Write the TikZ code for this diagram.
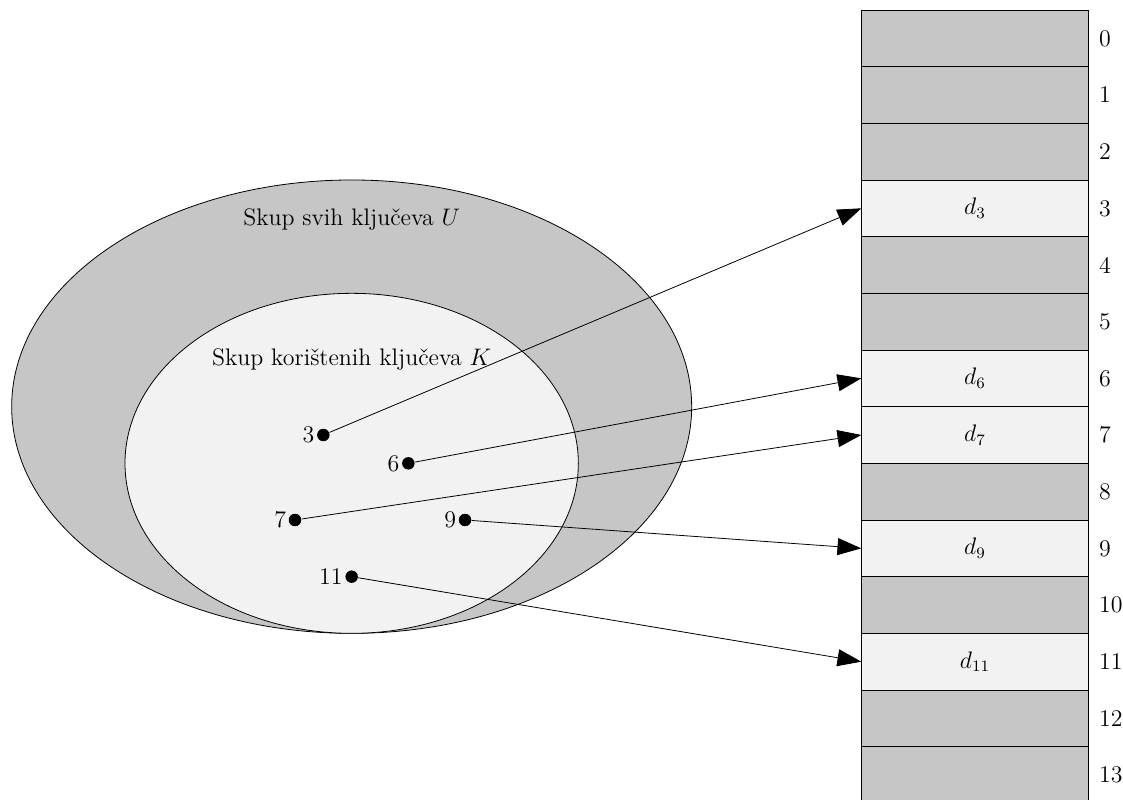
\documentclass[12pt,tikz,border=0pt]{standalone}
\usepackage{tikz}
\usetikzlibrary{arrows.meta,positioning,shapes.geometric}

\begin{document}
\begin{tikzpicture}[
  >={Triangle[length=0.42cm, width=0.3cm]},
  slot/.style={draw, minimum width=4cm, minimum height=1cm, inner sep=0pt},
  idx/.style={label distance=1pt},
  set/.style={draw, ellipse, inner sep=0pt},
  key/.style={circle, fill, inner sep=0pt, minimum size=0.22cm},
  keylab/.style={inner sep=1pt}
]
\useasboundingbox (-15.206,0.176) rectangle (4.611,-13.94);
%% hash table slots
\foreach \i in {0,1,2,4,5,8,10,12,13}
  \node[slot, fill=gray!45, label={[idx]right:\i}] (r\i) at (2,-\i-0.5) {};
\foreach \i in {3,6,7,9,11}
  \node[slot, fill=gray!10, label={[idx]right:\i}] (r\i) at (2,-\i-0.5) {$d_{\i}$};
%% universe and used keys
\node[set, minimum width=12cm, minimum height=8cm, fill=gray!45] (U) at (-9,-7) {};
\node[set, minimum width=8cm, minimum height=6cm, fill=gray!10] (K) at (-9,-8) {};
\node (Ulab) at (-9,-3.69) {Skup svih ključeva $U$};
\node (Klab) at (-9,-6.17) {Skup korištenih ključeva $K$};
%% keys
\node[key, label={[keylab]left:3}] (k3) at (-9.5,-7.5) {};
\node[key, label={[keylab]left:6}] (k6) at (-8,-8) {};
\node[key, label={[keylab]left:7}] (k7) at (-10,-9) {};
\node[key, label={[keylab]left:9}] (k9) at (-7,-9) {};
\node[key, label={[keylab]left:11}] (k11) at (-9,-10) {};
%% mapping
\draw[->] (k3) -- (r3.west);
\draw[->] (k6) -- (r6.west);
\draw[->] (k7) -- (r7.west);
\draw[->] (k9) -- (r9.west);
\draw[->] (k11) -- (r11.west);
\end{tikzpicture}
\end{document}
